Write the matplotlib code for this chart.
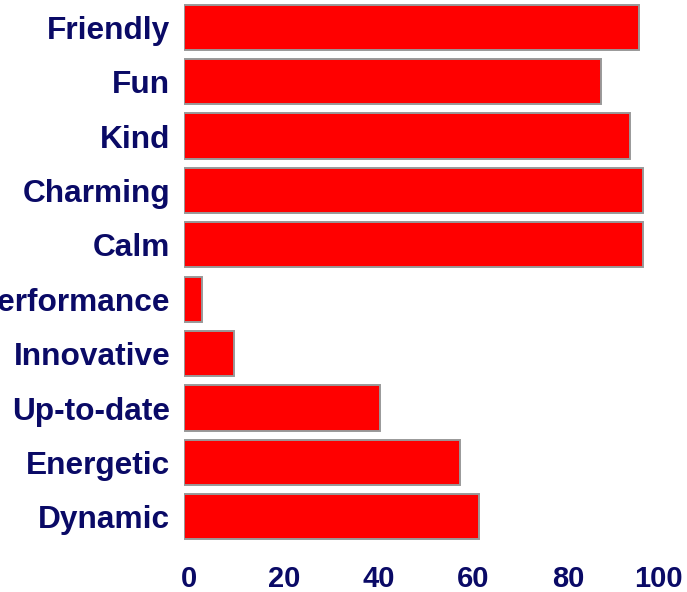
import numpy as np
import matplotlib
matplotlib.use("Agg")
import matplotlib.pyplot as plt
from matplotlib.transforms import ScaledTranslation

#------------
# Datos
#------------
categorias = ["Friendly", "Fun", "Kind", "Charming", "Calm",
              "Performance", "Innovative", "Up-to-date", "Energetic", "Dynamic"]
valores = [96, 88, 94, 96.8, 96.8, 3.8, 10.5, 41.4, 58.2, 62.2]
ticks_x = [0, 20, 40, 60, 80, 100]

COLOR_TEXTO = "#0a0a66"
plt.rcParams["font.family"] = ["Liberation Sans", "DejaVu Sans"]

#------------
# Figura
#------------
fig = plt.figure(figsize=(6.87, 5.92), dpi=100)
ax = fig.add_axes([0.268, 0.081, 0.690, 0.919])

y = np.arange(len(categorias))
ax.barh(y, valores, height=0.83, color="#ff0000",
        edgecolor="#999999", linewidth=1.4)

ax.set_xlim(0, 100)
ax.set_ylim(len(categorias) - 0.5, -0.5)
ax.set_yticks(y)
ax.set_yticklabels(categorias)
ax.set_xticks(ticks_x)
ax.set_xticklabels([str(t) for t in ticks_x])

for spine in ax.spines.values():
    spine.set_visible(False)
ax.tick_params(axis="both", length=0, colors=COLOR_TEXTO)
ax.tick_params(axis="y", pad=10, labelsize=22.8)
ax.tick_params(axis="x", pad=15, labelsize=21)
for lbl in ax.get_xticklabels() + ax.get_yticklabels():
    lbl.set_fontweight("bold")

# etiquetas del eje x algo desplazadas a la derecha (salvo la última)
for lbl in ax.get_xticklabels()[:-1]:
    lbl.set_transform(lbl.get_transform()
                      + ScaledTranslation(5 / 100, 0, fig.dpi_scale_trans))

fig.savefig("out.png", dpi=100)
plt.close(fig)
